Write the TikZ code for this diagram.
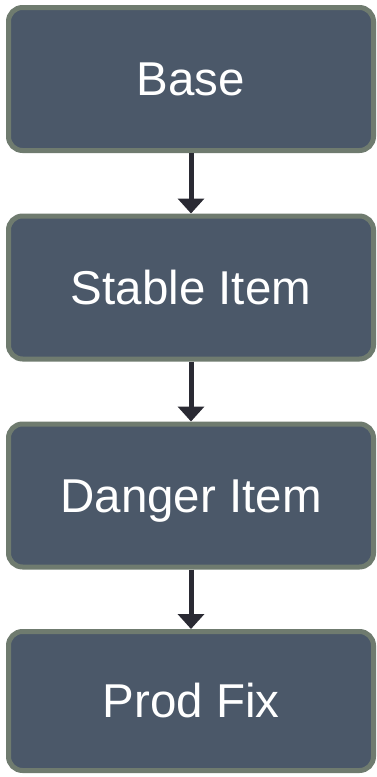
\documentclass[tikz,border=0pt]{standalone}
\usepackage{fontspec}
\setmainfont{Liberation Sans}
\usetikzlibrary{arrows.meta}
\definecolor{boxfill}{HTML}{4B5869}
\definecolor{boxedge}{HTML}{6F7B6F}
\definecolor{arrowcol}{HTML}{2A2A33}
\begin{document}
\begin{tikzpicture}[x=1pt,y=-1pt,
  stage/.style={draw=boxedge, fill=boxfill, line width=5pt, rounded corners=14pt,
    minimum width=365pt, minimum height=143pt, inner sep=0pt,
    text height=33.6pt, text depth=0pt,
    text=white, font=\fontsize{47.5}{56}\selectfont},
  flow/.style={draw=arrowcol, line width=5pt, -{Triangle[width=26pt,length=15pt]}}]
  \useasboundingbox (0,0) rectangle (377,777);
  \node[stage] (base)   at (191,79)    {Base};
  \node[stage] (stable) at (191,287.5) {Stable Item};
  \node[stage] (danger) at (191,495.5) {Danger Item};
  \node[stage, minimum height=139pt] (prod) at (191,701) {Prod Fix};
  \draw[flow] (base.south) -- (stable.north);
  \draw[flow] (stable.south) -- (danger.north);
  \draw[flow] (danger.south) -- (prod.north);
\end{tikzpicture}
\end{document}
